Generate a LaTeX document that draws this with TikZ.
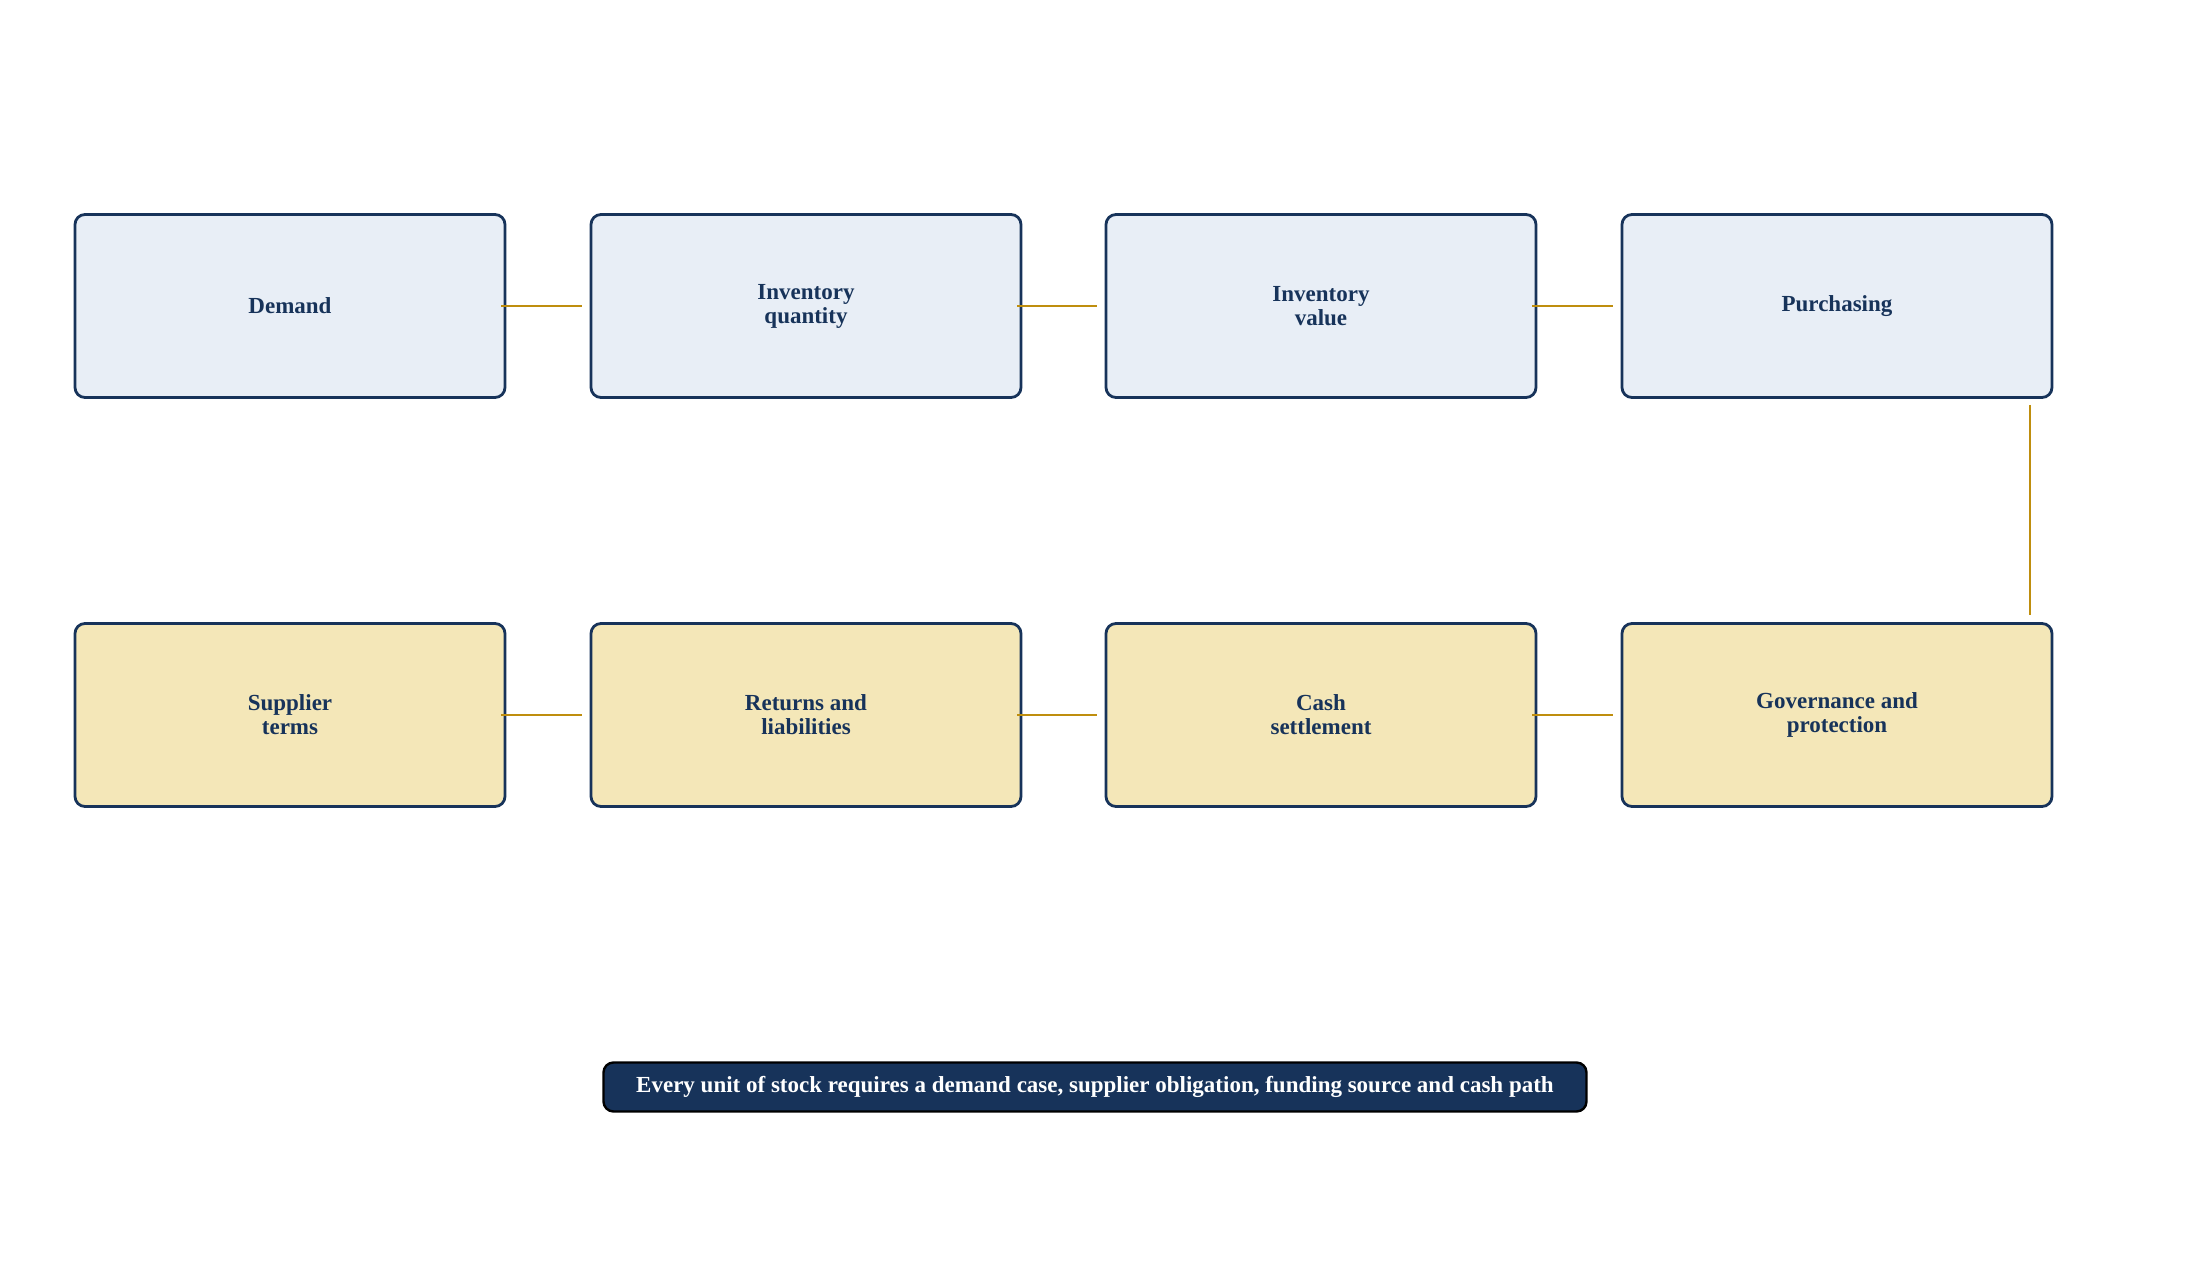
\documentclass[tikz,border=0pt]{standalone}
\usepackage{fontspec}
\setmainfont{Liberation Serif}
\begin{document}
\definecolor{navy}{HTML}{17335A}
\definecolor{lblue}{HTML}{E8EEF6}
\definecolor{lyel}{HTML}{F4E7B8}
\definecolor{gold}{HTML}{BF8E0E}
\begin{tikzpicture}[x=0.5pt,y=-0.5pt,
 box/.style={draw=navy,line width=1.4pt,rounded corners=5pt,minimum width=430*0.5pt,minimum height=183*0.5pt,align=center,font=\fontsize{11.5}{12}\selectfont\bfseries,text=navy},
 top/.style={box,fill=lblue},
 bot/.style={box,fill=lyel},
 link/.style={draw=gold,line width=1.3pt}]
\useasboundingbox (0,0) rectangle (2191,1267);
\node[top] (a) at (290,306) {Demand};
\node[top] (b) at (806,306) {Inventory\\quantity};
\node[top] (c) at (1321,306) {Inventory\\value};
\node[top] (d) at (1837,306) {Purchasing};
\node[bot] (e) at (290,715) {Supplier\\terms};
\node[bot] (f) at (806,715) {Returns and\\liabilities};
\node[bot] (g) at (1321,715) {Cash\\settlement};
\node[bot] (h) at (1837,715) {Governance and\\protection};
\draw[link] ([xshift=-5*0.5pt]a.east) -- ([xshift=-8*0.5pt]b.west);
\draw[link] ([xshift=-5*0.5pt]b.east) -- ([xshift=-8*0.5pt]c.west);
\draw[link] ([xshift=-5*0.5pt]c.east) -- ([xshift=-8*0.5pt]d.west);
\draw[link] ([xshift=-5*0.5pt]e.east) -- ([xshift=-8*0.5pt]f.west);
\draw[link] ([xshift=-5*0.5pt]f.east) -- ([xshift=-8*0.5pt]g.west);
\draw[link] ([xshift=-5*0.5pt]g.east) -- ([xshift=-8*0.5pt]h.west);
\coordinate (p) at (2030,405);
\coordinate (q) at (2030,615);
\draw[link] (p) -- (q);
\node[draw=black,line width=1.2pt,fill=navy,rounded corners=5pt,text=white,font=\fontsize{11.5}{12}\selectfont\bfseries,minimum width=983*0.5pt,minimum height=49*0.5pt] (cap) at (1095,1087) {Every unit of stock requires a demand case, supplier obligation, funding source and cash path};
\end{tikzpicture}
\end{document}
